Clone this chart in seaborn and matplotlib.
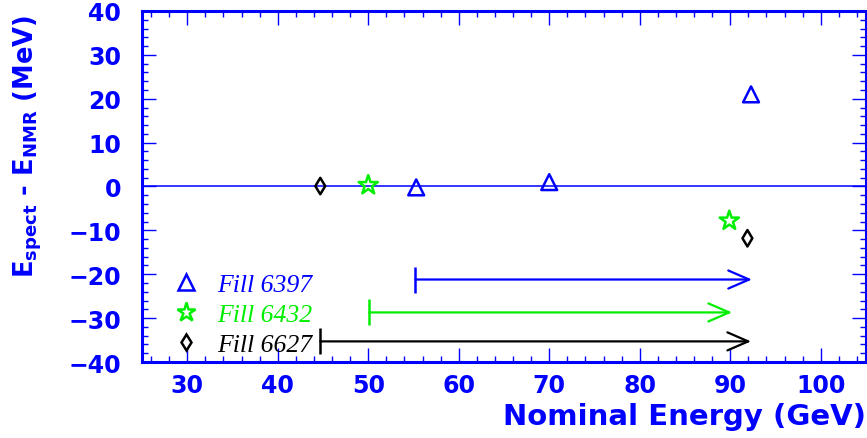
import numpy as np
import pandas as pd
import seaborn as sns
import matplotlib.pyplot as plt
from matplotlib.lines import Line2D
from matplotlib.ticker import MultipleLocator

# data
fills = ["Fill 6397", "Fill 6432", "Fill 6627"]
energy_6397 = [55.3, 70.0, 92.3]
diff_6397 = [-0.2, 1.0, 21.0]
energy_6432 = [50.0, 89.9]
diff_6432 = [0.3, -7.8]
energy_6627 = [44.7, 91.9]
diff_6627 = [0.1, -11.8]

# energy ranges covered by each fill (arrows)
range_start = [55.2, 50.1, 44.7]
range_end = [92.4, 90.2, 92.3]
range_y = [-21.2, -28.7, -35.3]

colors = {"Fill 6397": "#0000ff", "Fill 6432": "#00ee00", "Fill 6627": "#000000"}
markers = {"Fill 6397": "^", "Fill 6432": "*", "Fill 6627": "d"}
msize = {"Fill 6397": 130, "Fill 6432": 210, "Fill 6627": 70}

df = pd.concat([
    pd.DataFrame({"energy": energy_6397, "diff": diff_6397, "fill": "Fill 6397"}),
    pd.DataFrame({"energy": energy_6432, "diff": diff_6432, "fill": "Fill 6432"}),
    pd.DataFrame({"energy": energy_6627, "diff": diff_6627, "fill": "Fill 6627"}),
])

sns.set_style("ticks")
plt.rcParams["font.family"] = ["DejaVu Sans"]
plt.rcParams["mathtext.fontset"] = "custom"
plt.rcParams["mathtext.bf"] = "DejaVu Sans:bold"
plt.rcParams["mathtext.rm"] = "DejaVu Sans:bold"

blue = "#0000ff"
fig = plt.figure(figsize=(8.67, 4.39), dpi=100)
ax = fig.add_axes([0.1638, 0.1731, 0.835, 0.7996])

ax.axhline(0, color=blue, lw=1.1, zorder=1)

for f in fills:
    sub = df[df["fill"] == f]
    sns.scatterplot(data=sub, x="energy", y="diff", ax=ax, marker=markers[f],
                    s=msize[f], facecolor="none", edgecolor=colors[f],
                    linewidth=1.8, zorder=3)

for i, f in enumerate(fills):
    ax.annotate("", xy=(range_end[i], range_y[i]), xytext=(range_start[i], range_y[i]),
                arrowprops=dict(arrowstyle="->,head_length=1.5,head_width=0.65",
                                color=colors[f], lw=1.6, shrinkA=0, shrinkB=0))
    ax.plot(range_start[i], range_y[i], marker="|", ms=19, mew=1.8, color=colors[f])

handles = [Line2D([], [], ls="none", marker=markers[f], color=colors[f],
                  markerfacecolor="none", markeredgewidth=1.8,
                  markersize=np.sqrt(msize[f]) * 0.95) for f in fills]
ax.legend(handles, fills, loc="lower left", bbox_to_anchor=(0.008, -0.048),
          frameon=False, handletextpad=0.6, handlelength=1.2, labelspacing=0.26,
          labelcolor=[colors[f] for f in fills],
          prop={"family": "Liberation Serif", "style": "italic", "size": 18.5})

ax.set_xlim(25, 105)
ax.set_ylim(-40, 40)
ax.xaxis.set_major_locator(MultipleLocator(10))
ax.xaxis.set_minor_locator(MultipleLocator(2))
ax.yaxis.set_major_locator(MultipleLocator(10))
ax.yaxis.set_minor_locator(MultipleLocator(2))
ax.set_xticks([30, 40, 50, 60, 70, 80, 90, 100])

for s in ax.spines.values():
    s.set_color(blue)
    s.set_linewidth(2.2)
ax.tick_params(which="both", direction="in", top=True, right=True, colors=blue,
               labelcolor=blue, labelsize=17)
ax.tick_params(which="major", length=10, width=1)
ax.tick_params(which="minor", length=4.5, width=1)
ax.tick_params(axis="y", pad=15)
ax.tick_params(axis="x", pad=8)
for lab in ax.get_xticklabels() + ax.get_yticklabels():
    lab.set_fontweight("bold")

ax.set_xlabel("Nominal Energy (GeV)", color=blue, fontsize=21, fontweight="bold",
              loc="right")
ax.set_ylabel(r"E$_{\mathbf{spect}}$ - E$_{\mathbf{NMR}}$ (MeV)", color=blue,
              fontsize=18.5, fontweight="bold", loc="top")
ax.xaxis.set_label_coords(1.0, -0.115)
ax.yaxis.set_label_coords(-0.135, 0.993)

fig.savefig("out.png", dpi=100)
